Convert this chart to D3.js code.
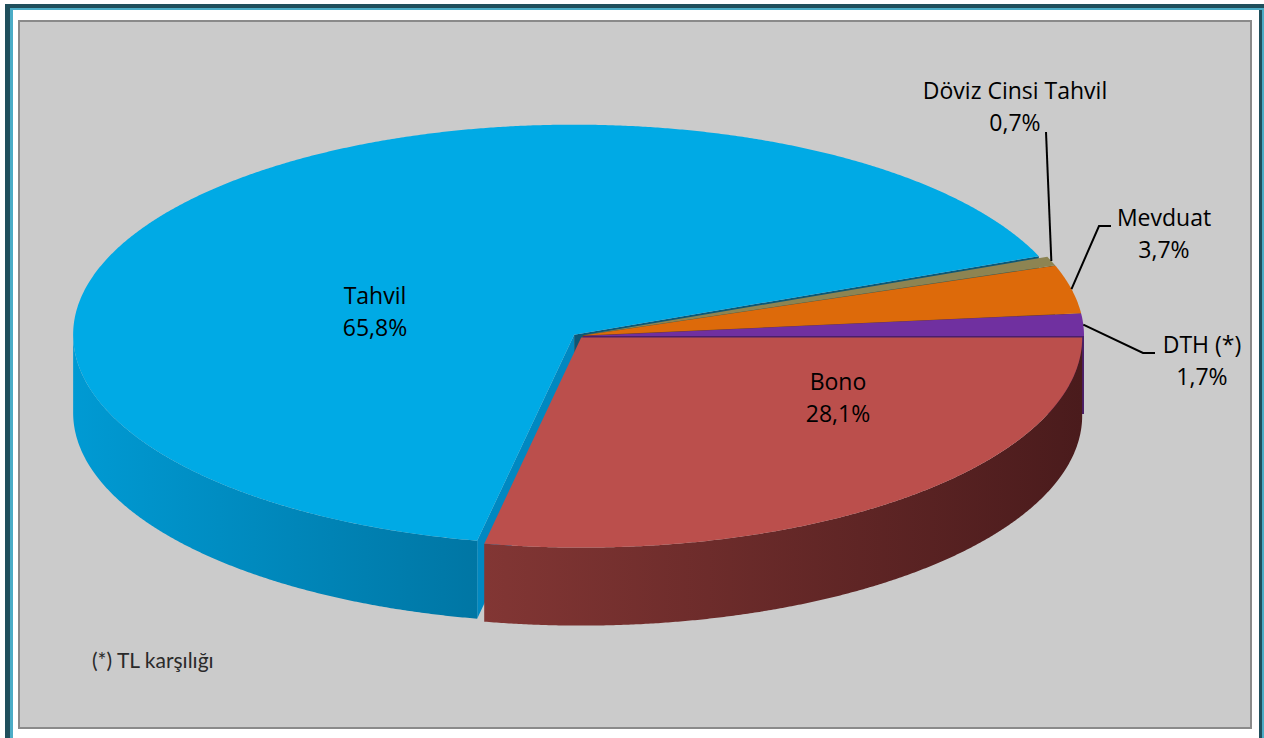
<!DOCTYPE html>
<html lang="tr">
<head>
<meta charset="utf-8">
<script src="https://d3js.org/d3.v7.min.js"></script>
<style>
  body { margin:0; padding:0; background:#fff; }
  svg { display:block; }
  .lbl { font-family:"Open Sans", sans-serif; font-size:23px; fill:#000; }
  .note { font-family:Lato, sans-serif; font-size:21px; fill:#2a2a2a; }
</style>
</head>
<body>
<svg id="chart" width="1264" height="738"></svg>
<script>
// slice order, clockwise from 3 o'clock
const categories = ['Bono', 'Tahvil', 'Döviz Cinsi Tahvil', 'Mevduat', 'DTH (*)'];
const shares = [28.1, 65.8, 0.7, 3.7, 1.7];
const topColors = ['#bb4f4c', '#00aae5', '#8d8452', '#dd6a0a', '#7030a0'];
const sideLight = ['#823634', '#009ad3', '#6b643e', '#a85008', '#55247a'];
const sideDark = ['#4a1b1c', '#0076a4', '#4f4a2d', '#7a3a06', '#3f1a5c'];
const edgeColors = ['#5a2322', '#0088c1', '#5c5534', '#7a3a06', '#4b1f6b'];
const endEdgeColors = ['#5a2322', '#0b5877', '#5c5534', '#7a3a06', '#4b1f6b'];
const footnote = '(*) TL karşılığı';

const W = 1264, H = 738;
const cx = 578, cy = 336, rx = 501, ry = 210, depth = 78;
const explode = 0.01; // in radius units

const svg = d3.select('#chart');
const defs = svg.append('defs');

// frame
svg.append('rect').attr('x', 5).attr('y', 4).attr('width', W).attr('height', H).attr('fill', '#1f4f5c');
svg.append('rect').attr('x', 10).attr('y', 8).attr('width', W).attr('height', H).attr('fill', '#4bacc6');
svg.append('rect').attr('x', 13).attr('y', 10).attr('width', 1246).attr('height', H).attr('fill', '#fff');
svg.append('rect').attr('x', 1259).attr('y', 10).attr('width', 3).attr('height', H).attr('fill', '#1f4f5c');
svg.append('rect').attr('x', 1262).attr('y', 10).attr('width', 3).attr('height', H).attr('fill', '#4bacc6');
svg.append('rect').attr('x', 19).attr('y', 21).attr('width', 1232).attr('height', 707)
  .attr('fill', '#cbcbcb').attr('stroke', '#8a8a8a').attr('stroke-width', 2);

const xScale = d3.scaleLinear().domain([-1, 1]).range([cx - rx, cx + rx]);
const yScale = d3.scaleLinear().domain([-1, 1]).range([cy - ry, cy + ry]);

const data = categories.map((c, i) => ({ name: c, value: shares[i], i: i }));
const arcs = d3.pie().sort(null).value(d => d.value).startAngle(0).endAngle(2 * Math.PI)(data);

arcs.forEach(a => {
  const m = (a.startAngle + a.endAngle) / 2;
  a.mid = m;
  a.ox = explode * Math.cos(m);
  a.oy = explode * Math.sin(m);
});

function pt(a, t, r, z) {
  return [xScale(a.ox + r * Math.cos(t)), yScale(a.oy + r * Math.sin(t)) + z];
}
function arcPts(a, t0, t1, z) {
  const n = Math.max(2, Math.ceil((t1 - t0) / 0.005));
  const out = [];
  for (let k = 0; k <= n; k++) out.push(pt(a, t0 + (t1 - t0) * k / n, 1, z));
  return out;
}
const line = d3.line();

// radial walls facing the viewer
const gWalls = svg.append('g');
arcs.forEach(a => {
  [[a.startAngle, Math.cos(a.startAngle) < -1e-6, edgeColors[a.data.i]],
   [a.endAngle, Math.cos(a.endAngle) > 1e-6, endEdgeColors[a.data.i]]].forEach(([t, vis, col]) => {
    if (!vis) return;
    const p = [pt(a, t, 0, 0), pt(a, t, 1, 0), pt(a, t, 1, depth), pt(a, t, 0, depth)];
    gWalls.append('path').attr('d', line(p) + 'Z').attr('fill', col);
  });
});

// outer walls (front half only)
arcs.forEach(a => {
  const t0 = Math.max(a.startAngle, 0), t1 = Math.min(a.endAngle, Math.PI);
  if (t1 <= t0) return;
  const top = arcPts(a, t0, t1, 0);
  const bot = arcPts(a, t0, t1, depth).reverse();
  const xs = top.map(p => p[0]);
  const gid = 'side' + a.data.i;
  const g = defs.append('linearGradient').attr('id', gid).attr('gradientUnits', 'userSpaceOnUse')
    .attr('x1', d3.min(xs)).attr('x2', d3.max(xs)).attr('y1', 0).attr('y2', 0);
  g.append('stop').attr('offset', 0).attr('stop-color', sideLight[a.data.i]);
  g.append('stop').attr('offset', 1).attr('stop-color', sideDark[a.data.i]);
  gWalls.append('path').attr('d', line(top.concat(bot)) + 'Z').attr('fill', 'url(#' + gid + ')');
});

// top faces
svg.append('g').selectAll('path').data(arcs).join('path')
  .attr('d', a => line([pt(a, 0, 0, 0)].concat(arcPts(a, a.startAngle, a.endAngle, 0))) + 'Z')
  .attr('fill', a => topColors[a.data.i]);

// labels
const fmt = v => v.toFixed(1).replace('.', ',') + '%';
const labelPos = {
  'Bono': { x: 838, y: 390 },
  'Tahvil': { x: 375, y: 304 },
  'Döviz Cinsi Tahvil': { x: 1015, y: 99, leader: [[1046, 132], [1046, 132]] },
  'Mevduat': { x: 1164, y: 226, leader: [[1111, 226], [1099, 226]] },
  'DTH (*)': { x: 1202, y: 353, leader: [[1155, 353], [1143, 353]] }
};
const gLab = svg.append('g');
arcs.forEach(a => {
  const L = labelPos[a.data.name];
  if (L.leader) {
    const start = pt(a, a.mid, 1, 0);
    const p = [L.leader[0], L.leader[1], start];
    gLab.append('path').attr('d', line(p)).attr('fill', 'none').attr('stroke', '#000').attr('stroke-width', 2);
  }
  const t = gLab.append('text').attr('class', 'lbl').attr('text-anchor', 'middle');
  t.append('tspan').attr('x', L.x).attr('y', L.y).text(a.data.name);
  t.append('tspan').attr('x', L.x).attr('y', L.y + 32).text(fmt(a.data.value));
});

svg.append('text').attr('class', 'note').attr('x', 92).attr('y', 668).text(footnote);
</script>
</body>
</html>
